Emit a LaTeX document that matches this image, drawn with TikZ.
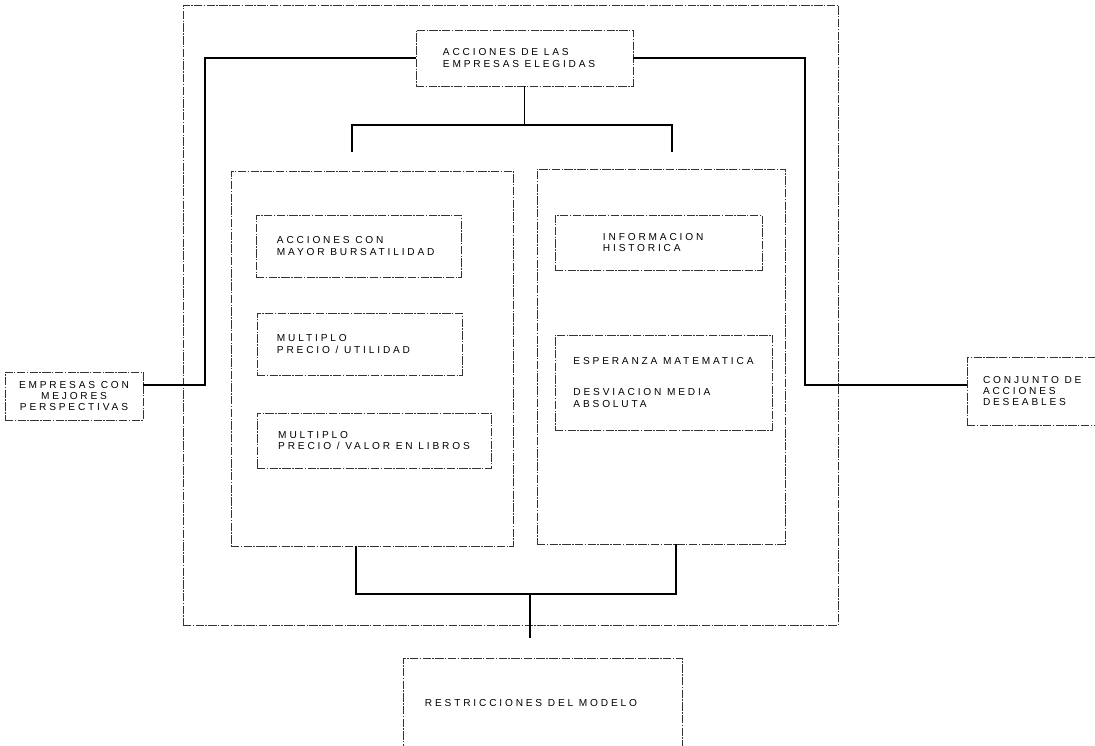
\documentclass[tikz,border=0pt]{standalone}
\usepackage{fontspec}
\newfontfamily\cajafont[LetterSpace=28]{Liberation Sans}

\begin{document}
\begin{tikzpicture}[x=0.025cm, y=-0.025cm,
    marco/.style={draw=black!80, line width=0.5pt, dash pattern=on 6pt off 1pt on 1pt off 1pt, inner sep=0pt},
    caja/.style={marco, font=\cajafont\fontsize{7.2}{8}\selectfont, align=flush left},
    enlace/.style={draw=black, line width=1.2pt}]
    \useasboundingbox (0,0) rectangle (1095,745);

    \node[marco, minimum width=16.375cm, minimum height=15.5cm] (modelo) at (510.5,315) {};
    \node[marco, minimum width=7.05cm, minimum height=9.375cm] (panelizq) at (372,358.5) {};
    \node[marco, minimum width=6.2cm, minimum height=9.375cm] (panelder) at (661,356.5) {};

    \node[caja, minimum width=5.425cm, minimum height=1.4cm, inner xsep=0.675cm, text width=4.075cm] (elegidas) at (524.5,58)
        {ACCIONES DE LAS\\EMPRESAS ELEGIDAS};
    \node[caja, align=center, minimum width=3.45cm, minimum height=1.2cm] (empresas) at (74,396)
        {EMPRESAS CON\\MEJORES\\PERSPECTIVAS};
    \node[caja, minimum width=3.45cm, minimum height=1.7cm, inner xsep=0.4cm, text width=2.65cm] (conjunto) at (1036,391)
        {CONJUNTO DE\\ACCIONES\\DESEABLES};

    \node[caja, minimum width=5.125cm, minimum height=1.55cm, inner xsep=0.525cm, text width=4.075cm] (bursatilidad) at (358.5,246)
        {ACCIONES CON\\MAYOR BURSATILIDAD};
    \node[caja, minimum width=5.125cm, minimum height=1.55cm, inner xsep=0.5cm, text width=4.125cm] (utilidad) at (359.5,344)
        {MULTIPLO\\PRECIO / UTILIDAD};
    \node[caja, align=left, minimum width=5.85cm, minimum height=1.375cm] (libros) at (374,440.5)
        {MULTIPLO\\PRECIO / VALOR EN LIBROS};

    \node[caja, minimum width=5.175cm, minimum height=1.375cm, inner xsep=1.2cm, text width=2.775cm] (historica) at (658.5,242.5)
        {INFORMACION\\HISTORICA};
    \node[caja, align=left, minimum width=5.425cm, minimum height=2.375cm] (esperanza) at (663.5,382.5)
        {ESPERANZA MATEMATICA\\[14pt]DESVIACION MEDIA\\ABSOLUTA};

    \node[caja, minimum width=6.975cm, minimum height=2.25cm, inner xsep=0.55cm, text width=5.875cm] (restricciones) at (542.5,703)
        {RESTRICCIONES DEL MODELO};

    \coordinate (codoizq) at (205,385);
    \coordinate (cododer) at (805,385);
    \coordinate (ramaarriba) at (524.5,125);
    \coordinate (bajaizq) at (352,152);
    \coordinate (bajader) at (672,152);
    \coordinate (subeizq) at (356,594);
    \coordinate (subeder) at (676,594);
    \coordinate (pie) at (530,638);

    \draw[enlace] (elegidas.west) -| (codoizq) -- (codoizq -| empresas.east);
    \draw[enlace] (elegidas.east) -| (cododer) -- (cododer -| conjunto.west);
    \draw[enlace] (elegidas.south) -- (ramaarriba);
    \draw[enlace] (bajaizq) |- (ramaarriba) -| (bajader);
    \draw[enlace] (panelizq.south -| subeizq) -- (subeizq) -- (subeder) -- (panelder.south -| subeder);
    \draw[enlace] (subeizq -| pie) -- (pie);
\end{tikzpicture}
\end{document}
